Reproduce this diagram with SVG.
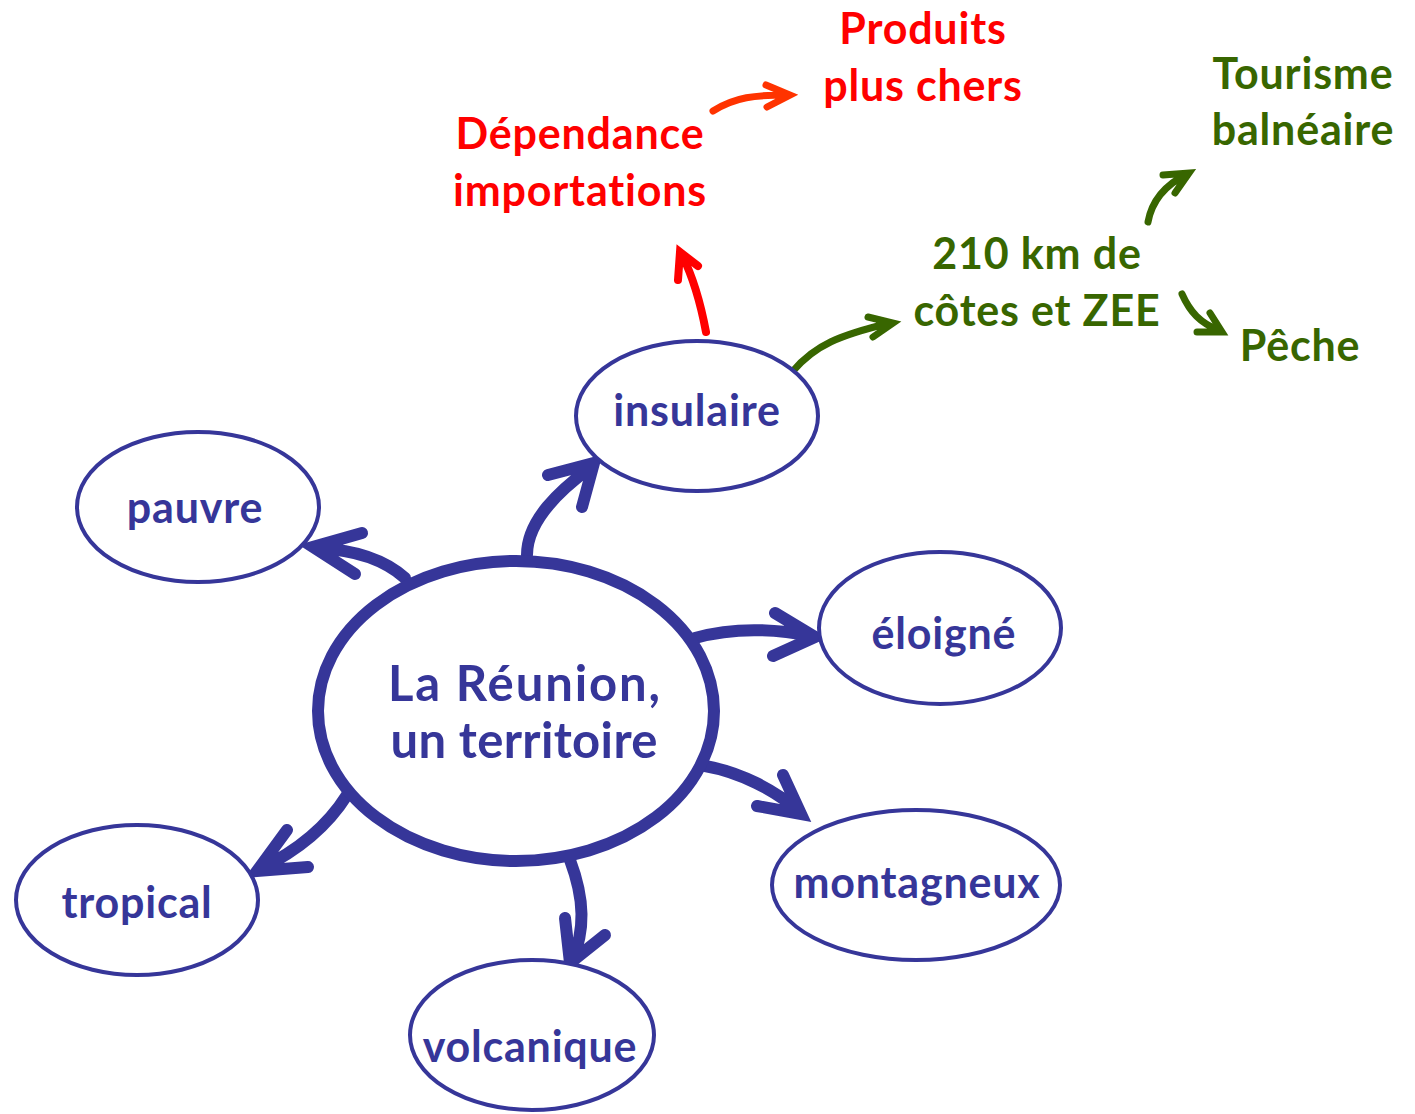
<svg xmlns="http://www.w3.org/2000/svg" width="1415" height="1114" viewBox="0 0 1415 1114">
<style>
text{font-family:Lato,"Open Sans","Liberation Sans",sans-serif;font-weight:bold;text-anchor:middle;font-size:43px;letter-spacing:0.8px}
.b{fill:#363699}
.r{fill:#ff0000}
.g{fill:#386600}
.c{font-size:49px;letter-spacing:0}
.node{fill:#fff;stroke:#363699;stroke-width:4}
.ab{fill:none;stroke:#363699;stroke-width:12;stroke-linecap:round;stroke-linejoin:miter}
.ar{fill:none;stroke:#ff0000;stroke-width:8;stroke-linecap:round}
.ao{fill:none;stroke:#ff3300;stroke-width:7;stroke-linecap:round}
.ag{fill:none;stroke:#386600;stroke-width:7;stroke-linecap:round}
</style>
<rect width="1415" height="1114" fill="#fff"/>
<g id="connectors">
<path class="ab" d="M527 555 C527 520 560 490 590 468 M548 475 L594 463 L582 507"/>
<path class="ab" d="M405 578 C385 560 355 550 318 548 M362 533 L313 547 L355 574"/>
<path class="ab" d="M695 638 C730 628 770 628 812 636 M775 613 L815 637 L773 656"/>
<path class="ab" d="M705 766 C740 772 775 790 800 812 M783 775 L801 814 L757 806"/>
<path class="ab" d="M347 795 C325 830 295 852 260 869 M287 830 L257 871 L308 867"/>
<path class="ab" d="M570 860 C585 900 585 930 572 962 M565 918 L570 963 L605 935"/>
<path class="ar" d="M706 332 C700 300 692 275 682 255 M698 266 L680 252 L678 280"/>
<path class="ag" d="M793 371 C815 345 840 335 890 323 M868 317 L893 323 L873 337"/>
<path class="ao" d="M713 111 C735 97 755 95 788 95 M766 85 L790 95 L767 107"/>
<path class="ag" d="M1148 222 C1152 200 1165 185 1187 174 M1163 175 L1189 173 L1175 193"/>
<path class="ag" d="M1182 294 C1190 312 1200 323 1220 331 M1210 313 L1222 332 L1197 332"/>
</g>
<g id="center">
<ellipse cx="516" cy="711" rx="198" ry="150" fill="#fff" stroke="#363699" stroke-width="12"/>
<text class="b c" x="524" y="701" textLength="272" lengthAdjust="spacing">La Réunion,</text>
<text class="b c" x="524" y="758" textLength="267" lengthAdjust="spacing">un territoire</text>
</g>
<g id="insulaire"><ellipse class="node" cx="697" cy="416" rx="121" ry="75"/><text class="b" x="697" y="426">insulaire</text></g>
<g id="pauvre"><ellipse class="node" cx="198" cy="507" rx="121" ry="75"/><text class="b" x="195" y="523">pauvre</text></g>
<g id="eloigne"><ellipse class="node" cx="940" cy="628" rx="121" ry="76"/><text class="b" x="944" y="649">éloigné</text></g>
<g id="montagneux"><ellipse class="node" cx="916" cy="885" rx="144" ry="75"/><text class="b" x="917" y="898">montagneux</text></g>
<g id="tropical"><ellipse class="node" cx="137" cy="900" rx="121" ry="75"/><text class="b" x="137" y="918">tropical</text></g>
<g id="volcanique"><ellipse class="node" cx="532" cy="1035" rx="122" ry="75"/><text class="b" x="530" y="1062">volcanique</text></g>
<g id="dependance"><text class="r" x="580" y="149">Dépendance</text><text class="r" x="580" y="206">importations</text></g>
<g id="produits"><text class="r" x="923" y="44">Produits</text><text class="r" x="923" y="101">plus chers</text></g>
<g id="cotes"><text class="g" x="1037" y="269">210 km de</text><text class="g" x="1037" y="326">côtes et ZEE</text></g>
<g id="tourisme"><text class="g" x="1303" y="89">Tourisme</text><text class="g" x="1303" y="145">balnéaire</text></g>
<g id="peche"><text class="g" x="1300" y="361">Pêche</text></g>
</svg>
